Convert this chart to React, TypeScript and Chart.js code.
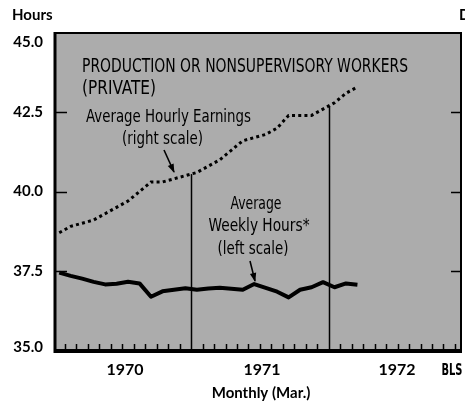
import React, { useEffect, useRef } from "react";
import { Chart, registerables } from "chart.js";

Chart.register(...registerables);

// Months Jan 1970 .. Mar 1972
const months = [
  "Jan 1970", "Feb 1970", "Mar 1970", "Apr 1970", "May 1970", "Jun 1970",
  "Jul 1970", "Aug 1970", "Sep 1970", "Oct 1970", "Nov 1970", "Dec 1970",
  "Jan 1971", "Feb 1971", "Mar 1971", "Apr 1971", "May 1971", "Jun 1971",
  "Jul 1971", "Aug 1971", "Sep 1971", "Oct 1971", "Nov 1971", "Dec 1971",
  "Jan 1972", "Feb 1972", "Mar 1972",
];

// Average weekly hours (left scale)
const weeklyHours = [
  37.44, 37.34, 37.25, 37.15, 37.07, 37.09, 37.15, 37.1, 36.68, 36.85, 36.9, 36.95,
  36.9, 36.94, 36.96, 36.93, 36.9, 37.08, 36.96, 36.84, 36.66, 36.9, 36.98, 37.14,
  36.98, 37.1, 37.06,
];

// Average hourly earnings, dollars (right scale)
const hourlyEarnings = [
  3.12, 3.14, 3.15, 3.16, 3.18, 3.2, 3.22, 3.25, 3.28, 3.28, 3.29, 3.3,
  3.31, 3.33, 3.35, 3.38, 3.41, 3.42, 3.43, 3.45, 3.49, 3.49, 3.49, 3.51,
  3.53, 3.56, 3.58,
];

const hoursTicks = [35.0, 37.5, 40.0, 42.5, 45.0];
const dollarTicks = [2.75, 3.0, 3.25, 3.5, 3.75];
const years = ["1970", "1971", "1972"];

const CONDENSED = '"Liberation Sans Narrow", "DejaVu Sans Condensed", "Arial Narrow", sans-serif';
const BOLD = 'Lato, "DejaVu Sans", sans-serif';

function drawArrow(ctx: CanvasRenderingContext2D, x1: number, y1: number, x2: number, y2: number) {
  ctx.save();
  ctx.strokeStyle = "#000";
  ctx.fillStyle = "#000";
  ctx.lineWidth = 1.6;
  ctx.beginPath();
  ctx.moveTo(x1, y1);
  ctx.lineTo(x2, y2);
  ctx.stroke();
  const ang = Math.atan2(y2 - y1, x2 - x1);
  const len = 8;
  const hw = 3.2;
  ctx.beginPath();
  ctx.moveTo(x2 + Math.cos(ang) * 1, y2 + Math.sin(ang) * 1);
  ctx.lineTo(x2 - Math.cos(ang) * len - Math.sin(ang) * hw, y2 - Math.sin(ang) * len + Math.cos(ang) * hw);
  ctx.lineTo(x2 - Math.cos(ang) * len + Math.sin(ang) * hw, y2 - Math.sin(ang) * len - Math.cos(ang) * hw);
  ctx.closePath();
  ctx.fill();
  ctx.restore();
}

const paperPlugin = {
  id: "paper",
  beforeDatasetsDraw(chart: any) {
    const { ctx, chartArea: a, scales } = chart;
    ctx.save();
    ctx.fillStyle = "#acacac";
    ctx.fillRect(a.left, a.top, a.right - a.left, a.bottom - a.top);

    // drop lines at year boundaries, from the earnings curve to the base
    const xs = scales.x;
    const yr = scales.yR;
    ctx.strokeStyle = "#000";
    ctx.lineWidth = 1.5;
    [12, 24].forEach((u) => {
      const i = u - 0.5;
      const lo = Math.floor(i);
      const t = i - lo;
      const v = hourlyEarnings[lo] * (1 - t) + hourlyEarnings[lo + 1] * t;
      const x = Math.round(xs.getPixelForValue(u)) + 0.5;
      ctx.beginPath();
      ctx.moveTo(x, yr.getPixelForValue(v));
      ctx.lineTo(x, a.bottom);
      ctx.stroke();
    });
    ctx.restore();
  },
  afterDatasetsDraw(chart: any) {
    const { ctx, chartArea: a, scales } = chart;
    const xs = scales.x;
    const yl = scales.y;
    ctx.save();
    ctx.strokeStyle = "#000";
    ctx.fillStyle = "#000";

    // frame
    ctx.lineWidth = 2;
    ctx.strokeRect(a.left, a.top, a.right - a.left, a.bottom - a.top);
    ctx.lineWidth = 3;
    ctx.beginPath();
    ctx.moveTo(a.left, a.top - 1);
    ctx.lineTo(a.left, a.bottom + 1.5);
    ctx.lineTo(a.right + 1, a.bottom + 1.5);
    ctx.stroke();

    // y ticks inside
    ctx.lineWidth = 1.5;
    hoursTicks.forEach((v) => {
      if (v === hoursTicks[0] || v === hoursTicks[hoursTicks.length - 1]) return;
      const y = Math.round(yl.getPixelForValue(v)) + 0.5;
      ctx.beginPath();
      ctx.moveTo(a.left, y);
      ctx.lineTo(a.left + 12, y);
      ctx.moveTo(a.right - 10, y);
      ctx.lineTo(a.right, y);
      ctx.stroke();
    });

    // monthly ticks on base
    for (let u = 1; u <= 35; u++) {
      if (u === 12 || u === 24) continue;
      const x = Math.round(xs.getPixelForValue(u)) + 0.5;
      ctx.beginPath();
      ctx.moveTo(x, a.bottom);
      ctx.lineTo(x, a.bottom - 6);
      ctx.stroke();
    }

    // left tick labels
    ctx.font = `bold 15px ${BOLD}`;
    ctx.textAlign = "right";
    ctx.textBaseline = "middle";
    hoursTicks.forEach((v) => {
      let y = yl.getPixelForValue(v);
      y = Math.max(y, a.top + 9);
      y = Math.min(y, a.bottom - 3);
      ctx.fillText(v.toFixed(1), a.left - 12, y);
    });

    // axis titles
    ctx.textBaseline = "alphabetic";
    ctx.textAlign = "left";
    ctx.font = `bold 15px ${BOLD}`;
    ctx.fillText("Hours", 12, 20);
    ctx.fillText("Dollars", 459, 20);

    // year labels
    ctx.textAlign = "center";
    ctx.font = `bold 16px ${BOLD}`;
    years.forEach((yrLabel, k) => {
      const start = Math.max(k * 12, xs.min);
      const end = Math.min((k + 1) * 12, xs.max);
      const x = xs.getPixelForValue((start + end) / 2);
      ctx.fillText(yrLabel, x + 2, 375, 37);
    });
    ctx.font = `bold 15px ${BOLD}`;
    ctx.fillText("Monthly (Mar.)", 261, 398, 110);
    ctx.font = `bold 16px ${CONDENSED}`;
    ctx.fillText("BLS", 452, 375, 21);

    // annotations
    ctx.textAlign = "left";
    ctx.font = `20px ${CONDENSED}`;
    ctx.fillText("PRODUCTION OR NONSUPERVISORY WORKERS", 82, 72, 326);
    ctx.fillText("(PRIVATE)", 82, 94, 74);
    ctx.font = `18px ${CONDENSED}`;
    ctx.fillText("Average Hourly Earnings", 86, 122, 165);
    ctx.fillText("(right scale)", 122, 144, 81);
    ctx.textAlign = "center";
    ctx.fillText("Average", 256, 209, 51);
    ctx.fillText("Weekly Hours*", 259, 231, 101);
    ctx.fillText("(left scale)", 253, 254, 71);
    ctx.restore();

    drawArrow(ctx, 164, 150, 174, 172);
    drawArrow(ctx, 250, 261, 255, 281);
  },
};

export default function App() {
  const ref = useRef<HTMLCanvasElement | null>(null);

  useEffect(() => {
    if (!ref.current) return;
    const chart = new Chart(ref.current, {
      type: "line",
      data: {
        labels: months,
        datasets: [
          {
            label: "Average Hourly Earnings",
            data: hourlyEarnings.map((v, i) => ({ x: i + 0.5, y: v })),
            yAxisID: "yR",
            borderColor: "#000",
            borderWidth: 3,
            borderDash: [3, 3.2],
            pointRadius: 0,
            tension: 0,
            fill: false,
          },
          {
            label: "Average Weekly Hours",
            data: weeklyHours.map((v, i) => ({ x: i + 0.5, y: v })),
            yAxisID: "y",
            borderColor: "#000",
            borderWidth: 4,
            borderJoinStyle: "round",
            pointRadius: 0,
            tension: 0,
            fill: false,
          },
        ],
      },
      options: {
        animation: false,
        responsive: false,
        maintainAspectRatio: false,
        devicePixelRatio: 1,
        layout: { padding: { left: 55, top: 33, right: 4, bottom: 58 } },
        plugins: { legend: { display: false }, tooltip: { enabled: false }, title: { display: false } },
        scales: {
          x: { type: "linear", min: 0.13, max: 35.53, display: false },
          y: { type: "linear", position: "left", min: hoursTicks[0], max: hoursTicks[hoursTicks.length - 1], display: false },
          yR: { type: "linear", position: "right", min: dollarTicks[0], max: dollarTicks[dollarTicks.length - 1], display: false },
        },
      },
      plugins: [paperPlugin],
    } as any);
    return () => chart.destroy();
  }, []);

  return (
    <div style={{ position: "absolute", left: 0, top: 0, width: 465, height: 408, overflow: "hidden", background: "#fff" }}>
      <canvas ref={ref} width={465} height={408} style={{ display: "block", width: 465, height: 408 }} />
    </div>
  );
}
